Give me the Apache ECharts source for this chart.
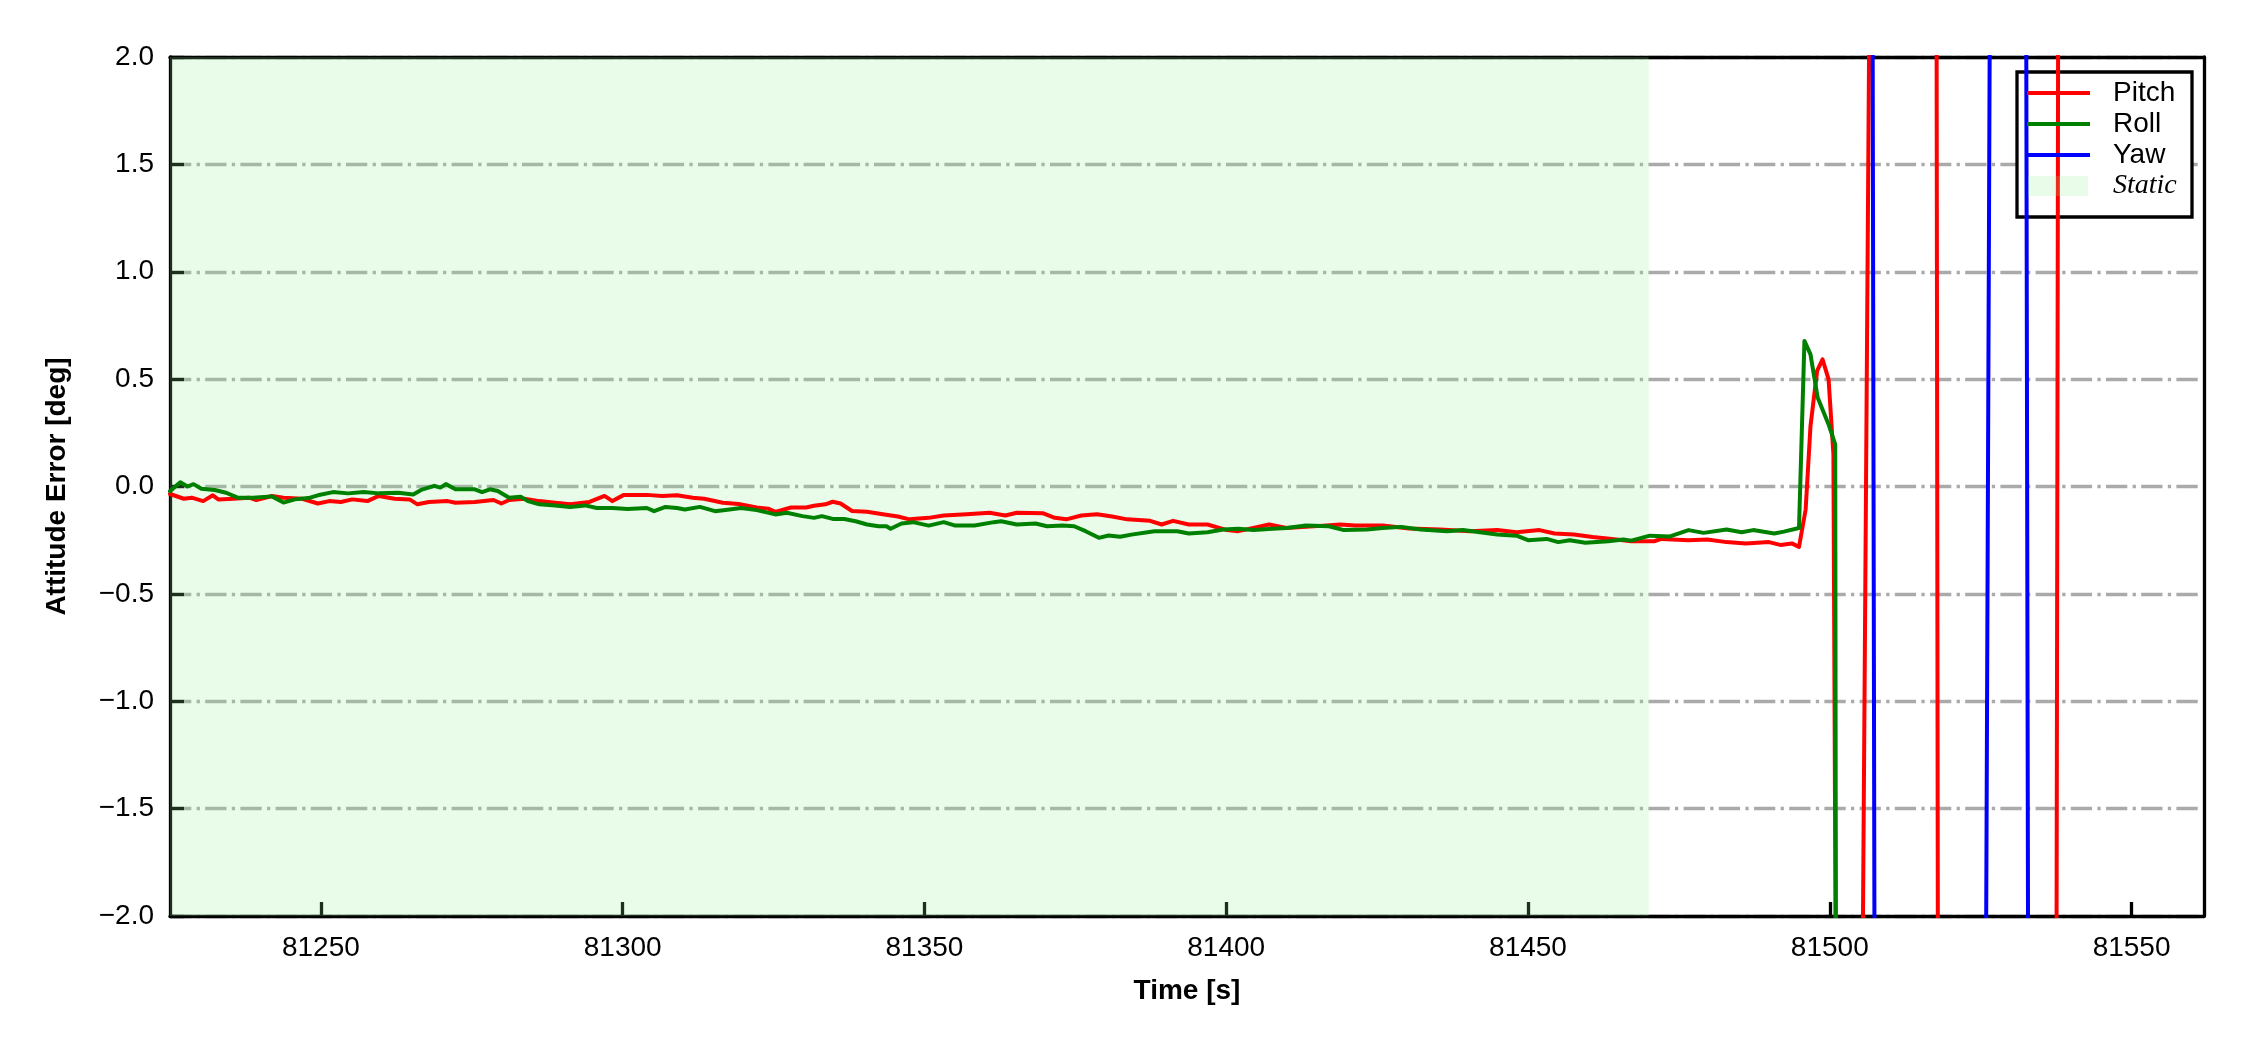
<!DOCTYPE html>
<html><head><meta charset="utf-8">
<script src="https://cdn.jsdelivr.net/npm/echarts@6/dist/echarts.min.js"></script>
<style>html,body{margin:0;padding:0;background:#fff}#c{width:2250px;height:1050px}</style>
</head><body><div id="c"></div>
<script>
// ---- data ----
const pitchTime = [81225.0,81227.3,81228.6,81230.5,81232.1,81233.0,81235.5,81238.1,81239.3,81241.9,81243.8,81246.9,81249.5,81251.4,81253.3,81255.2,81257.7,81259.6,81262.2,81264.7,81266.0,81267.9,81271.0,81272.3,81275.5,81278.6,81279.9,81281.2,81283.7,81286.2,81288.8,81291.3,81294.5,81297.0,81298.3,81300.2,81304.0,81306.5,81309.0,81311.6,81313.5,81316.6,81319.2,81322.2,81324.1,81325.3,81327.9,81330.4,81331.7,81333.6,81334.8,81336.1,81338.0,81340.5,81343.1,81345.6,81347.5,81350.7,81353.2,81357.0,81360.8,81363.4,81365.3,81369.7,81371.6,81373.5,81376.0,81378.6,81381.1,81383.6,81387.4,81389.3,81391.2,81393.8,81396.9,81400.1,81402.0,81404.5,81407.1,81410.0,81413.2,81418.9,81421.4,81425.9,81430.3,81435.4,81440.4,81444.9,81448.1,81451.9,81454.4,81457.6,81460.7,81463.9,81467.1,81470.9,81472.1,81476.6,81479.7,81482.9,81486.1,81489.9,81491.8,81493.7,81494.9,81496.0,81496.8,81497.9,81498.8,81499.8,81500.6,81501.6,81503.5,81505.0,81507.0,81512.0,81517.4,81518.2,81528.0,81537.2,81538.2,81550.0,81562.0];
const pitchVal = [-0.035,-0.057,-0.052,-0.068,-0.041,-0.060,-0.057,-0.052,-0.063,-0.044,-0.052,-0.057,-0.079,-0.068,-0.072,-0.060,-0.068,-0.044,-0.057,-0.060,-0.083,-0.072,-0.068,-0.076,-0.072,-0.063,-0.079,-0.063,-0.057,-0.068,-0.076,-0.083,-0.072,-0.044,-0.068,-0.039,-0.039,-0.044,-0.041,-0.052,-0.057,-0.076,-0.081,-0.098,-0.103,-0.118,-0.098,-0.098,-0.090,-0.083,-0.071,-0.079,-0.114,-0.118,-0.129,-0.140,-0.153,-0.146,-0.135,-0.129,-0.122,-0.135,-0.122,-0.125,-0.146,-0.153,-0.135,-0.129,-0.140,-0.153,-0.160,-0.177,-0.160,-0.177,-0.177,-0.203,-0.208,-0.193,-0.177,-0.193,-0.188,-0.177,-0.182,-0.182,-0.196,-0.200,-0.208,-0.203,-0.213,-0.203,-0.219,-0.224,-0.235,-0.244,-0.255,-0.255,-0.244,-0.250,-0.247,-0.259,-0.265,-0.259,-0.272,-0.265,-0.281,-0.107,0.281,0.538,0.592,0.499,0.150,-6,-9,-4,4,9,8,-8,-12,-8,8,12,10];

const rollTime = [81225.0,81226.7,81227.9,81228.9,81230.2,81232.4,81234.3,81236.2,81238.7,81241.9,81243.8,81245.7,81248.2,81249.5,81252.0,81254.5,81257.1,81259.6,81262.8,81265.3,81266.6,81268.8,81269.8,81270.7,81272.3,81275.5,81276.7,81278.0,81279.3,81281.2,81283.1,81284.3,81286.2,81288.8,81291.3,81293.8,81295.7,81298.3,81300.8,81304.0,81305.2,81307.1,81309.0,81310.3,81312.8,81315.3,81317.7,81319.6,81322.2,81325.3,81327.2,81329.8,81331.7,81333.0,81334.8,81336.7,81338.6,81340.5,81342.4,81343.7,81344.4,81346.2,81348.1,81350.7,81353.2,81355.1,81358.3,81361.5,81362.7,81365.3,81368.4,81370.3,81372.9,81374.8,81376.7,81378.9,81380.5,81382.4,81384.3,81388.1,81391.9,81393.8,81396.9,81399.5,81402.0,81404.5,81407.7,81410.0,81413.2,81417.0,81419.5,81423.3,81425.9,81429.0,81432.2,81436.6,81439.2,81444.9,81448.1,81450.0,81453.1,81455.0,81456.9,81459.5,81463.3,81465.8,81467.1,81470.2,81473.4,81476.6,81479.1,81482.9,81485.4,81487.3,81490.8,81492.4,81494.9,81495.8,81496.8,81498.0,81499.8,81500.9,81501.4,81530.0,81562.0];
const rollVal = [-0.022,0.020,0.000,0.011,-0.010,-0.016,-0.029,-0.052,-0.052,-0.046,-0.075,-0.060,-0.052,-0.041,-0.026,-0.032,-0.026,-0.032,-0.029,-0.037,-0.016,0.003,-0.005,0.011,-0.013,-0.013,-0.026,-0.013,-0.021,-0.052,-0.048,-0.068,-0.083,-0.088,-0.095,-0.088,-0.100,-0.100,-0.105,-0.100,-0.115,-0.095,-0.100,-0.107,-0.095,-0.115,-0.107,-0.100,-0.110,-0.130,-0.122,-0.138,-0.146,-0.138,-0.151,-0.151,-0.162,-0.177,-0.185,-0.185,-0.197,-0.172,-0.166,-0.182,-0.166,-0.182,-0.182,-0.166,-0.162,-0.177,-0.172,-0.185,-0.182,-0.185,-0.208,-0.239,-0.228,-0.234,-0.224,-0.208,-0.208,-0.219,-0.213,-0.200,-0.197,-0.203,-0.197,-0.193,-0.182,-0.185,-0.203,-0.200,-0.193,-0.188,-0.200,-0.208,-0.203,-0.224,-0.229,-0.250,-0.244,-0.259,-0.250,-0.262,-0.255,-0.247,-0.252,-0.229,-0.233,-0.203,-0.216,-0.200,-0.213,-0.203,-0.219,-0.210,-0.193,0.678,0.615,0.413,0.289,0.196,-10,-14,-12];

const yawTime = [81225.0,81506.6,81507.9,81525.2,81527.2,81532.2,81533.2,81562.0];
const yawVal  = [9,9,-9,-7,7,7,-7,-10];

const staticRange = [81225, 81470];
const xTicks = [81250, 81300, 81350, 81400, 81450, 81500, 81550];
const yMin = -2, yMax = 2, yStep = 0.5;
const xMin = 81225, xMax = 81562;

const zip = (t, v) => t.map((x, i) => [x, v[i]]);

const FONT = '"Liberation Sans", Arial, sans-serif';
const BLACK = '#000';
const SPINE = 3.3;

const chart = echarts.init(document.getElementById('c'), null, {renderer: 'canvas'});
const lineSeries = (name, color, t, v) => ({
  name, type: 'line', data: zip(t, v), symbol: 'none', showSymbol: false,
  color, clip: true, animation: false,
  lineStyle: {color, width: 4, cap: 'round', join: 'round'},
  itemStyle: {color}
});

chart.setOption({
  animation: false,
  backgroundColor: '#fff',
  textStyle: {fontFamily: FONT, color: BLACK},
  grid: {left: 170, top: 57, right: 46, bottom: 134, containLabel: false},
  xAxis: [{
    type: 'value', min: xMin, max: xMax, position: 'bottom',
    name: 'Time [s]', nameLocation: 'middle', nameGap: 61,
    nameTextStyle: {fontFamily: FONT, fontWeight: 'bold', fontSize: 28, color: BLACK},
    axisLine: {show: true, onZero: false, lineStyle: {color: BLACK, width: SPINE}},
    axisTick: {show: true, inside: true, length: 14, lineStyle: {color: BLACK, width: SPINE}, customValues: xTicks},
    axisLabel: {show: true, margin: 18, fontSize: 28, fontFamily: FONT, color: BLACK, customValues: xTicks,
      formatter: v => String(v)},
    splitLine: {show: false}
  }, {
    type: 'value', min: xMin, max: xMax, position: 'top',
    axisLine: {show: true, onZero: false, lineStyle: {color: BLACK, width: SPINE}},
    axisTick: {show: false}, axisLabel: {show: false}, splitLine: {show: false}
  }],
  yAxis: [{
    type: 'value', min: yMin, max: yMax, interval: yStep, position: 'left',
    name: 'Attitude Error [deg]', nameLocation: 'middle', nameGap: 99,
    nameTextStyle: {fontFamily: FONT, fontWeight: 'bold', fontSize: 28, color: BLACK},
    axisLine: {show: true, onZero: false, lineStyle: {color: BLACK, width: SPINE}},
    axisTick: {show: true, inside: true, length: 14, lineStyle: {color: BLACK, width: SPINE}},
    axisLabel: {show: true, margin: 16, fontSize: 28, fontFamily: FONT, color: BLACK,
      formatter: v => (v < 0 ? '\u2212' : '') + Math.abs(v).toFixed(1)},
    splitLine: {show: true, lineStyle: {color: '#aaaaaa', width: 3.3, type: [21.3, 5.3, 3.3, 5.3]}}
  }, {
    type: 'value', min: yMin, max: yMax, interval: yStep, position: 'right',
    axisLine: {show: true, onZero: false, lineStyle: {color: BLACK, width: SPINE}},
    axisTick: {show: false}, axisLabel: {show: false}, splitLine: {show: false}
  }],
  legend: [{
    orient: 'vertical', left: 2027, top: 77.5, padding: 0, itemGap: 0,
    selectedMode: false, icon: 'rect', itemWidth: 63, itemHeight: 4,
    itemStyle: {borderWidth: 0},
    textStyle: {fontFamily: FONT, fontSize: 28, color: BLACK, lineHeight: 31, padding: [0, 0, 0, 18]},
    data: ['Pitch', 'Roll', 'Yaw']
  }, {
    orient: 'vertical', left: 2028, top: 170.5, padding: 0, itemGap: 0,
    selectedMode: false, icon: 'rect', itemWidth: 60, itemHeight: 20,
    itemStyle: {borderWidth: 0},
    formatter: '{s|{name}}',
    textStyle: {fontSize: 28, color: BLACK, lineHeight: 31, padding: [0, 0, 0, 20],
      rich: {s: {fontFamily: '"Liberation Serif", "Times New Roman", serif', fontStyle: 'italic', fontSize: 28, color: BLACK, lineHeight: 31}}},
    data: ['Static']
  }],
  graphic: [{
    type: 'rect', z: 3, silent: true,
    shape: {x: 2017, y: 72, width: 175, height: 145},
    style: {fill: '#fff', stroke: BLACK, lineWidth: SPINE}
  }],
  series: [
    {
      name: 'Static', type: 'line', data: [], z: -1, symbol: 'none',
      color: 'rgba(144,238,144,0.2)',
      itemStyle: {color: 'rgba(144,238,144,0.2)'},
      lineStyle: {width: 0},
      markArea: {silent: true, itemStyle: {color: 'rgba(144,238,144,0.2)', borderWidth: 0},
        data: [[{xAxis: staticRange[0]}, {xAxis: staticRange[1]}]]}
    },
    lineSeries('Pitch', '#ff0000', pitchTime, pitchVal),
    lineSeries('Roll', '#008000', rollTime, rollVal),
    lineSeries('Yaw', '#0000ff', yawTime, yawVal)
  ]
});
</script>
</body></html>
